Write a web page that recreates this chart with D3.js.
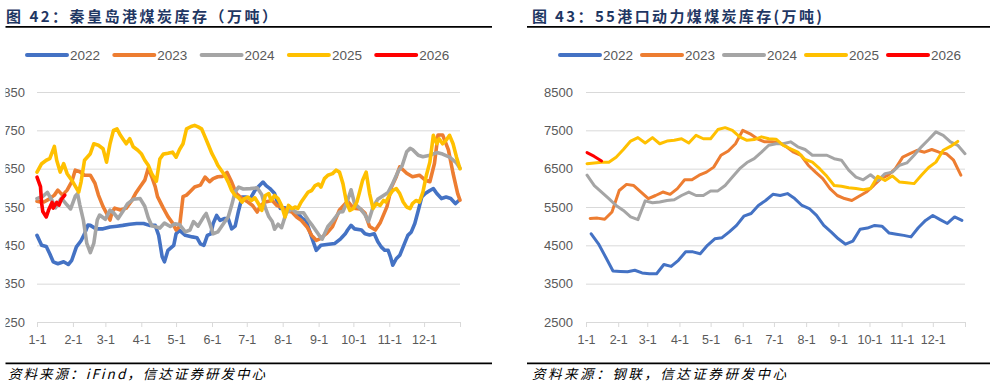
<!DOCTYPE html>
<html>
<head>
<meta charset="utf-8">
<script src="https://cdn.jsdelivr.net/npm/d3@7"></script>
<style>
  html, body { margin: 0; padding: 0; background: #fff; }
  svg { display: block; }
</style>
</head>
<body>
<script>
// x values are day of year (0 = 1-1)
const monthStarts = [0, 31, 59, 90, 120, 151, 181, 212, 243, 273, 304, 334, 365];
const monthLabels = ['1-1', '2-1', '3-1', '4-1', '5-1', '6-1', '7-1', '8-1', '9-1', '10-1', '11-1', '12-1', ''];
const years = ['2022', '2023', '2024', '2025', '2026'];
const colors = ['#4472C4', '#ED7D31', '#A5A5A5', '#FFC000', '#FF0000'];

// fig 42: Qinhuangdao port coal stock, daily, [day, value]
const qhdTicks = [250, 350, 450, 550, 650, 750, 850];
const qhd2022 = [[0,476],[4,450],[8,447],[11,428],[14,407],[18,402],[23,407],[27,400],[30,411],[34,446],[38,462],[41,480],[44,503],[46,502],[51,493],[57,493],[63,498],[69,500],[74,502],[80,505],[86,507],[92,507],[97,502],[102,502],[105,476],[108,420],[110,407],[113,437],[118,450],[120,480],[123,489],[128,476],[134,472],[138,470],[141,454],[144,450],[147,476],[150,480],[152,507],[155,528],[158,515],[162,520],[165,520],[168,493],[171,500],[174,541],[177,576],[180,576],[184,572],[188,593],[192,606],[195,615],[198,605],[201,598],[205,585],[207,567],[210,546],[214,548],[218,541],[222,537],[225,533],[229,520],[232,515],[234,498],[236,480],[239,454],[241,437],[245,450],[250,452],[257,455],[262,467],[266,480],[268,490],[271,502],[274,493],[280,490],[283,480],[287,477],[291,480],[294,460],[297,446],[300,437],[303,437],[305,420],[307,398],[310,415],[313,424],[317,454],[320,476],[323,485],[326,507],[329,541],[332,576],[335,585],[339,593],[342,598],[345,585],[349,572],[353,576],[357,572],[361,559],[364,567]];
const qhd2023 = [[0,565],[3,563],[6,563],[10,570],[15,581],[18,594],[22,581],[26,594],[30,616],[33,646],[37,642],[41,633],[46,633],[50,612],[53,581],[57,551],[60,534],[63,516],[65,538],[67,547],[72,542],[77,547],[82,568],[85,585],[89,603],[93,620],[96,651],[99,629],[102,603],[104,577],[109,547],[113,525],[117,508],[120,490],[123,499],[126,577],[129,581],[132,590],[136,602],[141,607],[145,628],[149,616],[152,624],[156,629],[160,630],[164,640],[168,615],[172,585],[177,572],[182,563],[186,554],[190,537],[193,554],[197,563],[203,567],[207,554],[211,550],[215,541],[220,537],[224,524],[228,515],[233,498],[237,476],[241,463],[244,467],[250,481],[255,499],[261,542],[265,555],[268,565],[273,547],[279,545],[283,534],[287,499],[292,490],[296,508],[302,551],[306,603],[310,629],[313,655],[319,638],[324,629],[330,633],[335,620],[339,616],[343,664],[346,738],[350,738],[355,699],[359,638],[363,585],[365,568]];
const qhd2024 = [[0,572],[5,578],[9,588],[13,567],[16,548],[18,559],[21,573],[26,555],[29,545],[33,578],[35,585],[37,555],[40,516],[43,455],[46,431],[49,455],[52,516],[54,529],[59,518],[63,542],[66,535],[70,520],[74,538],[78,558],[83,570],[89,572],[93,552],[96,522],[99,501],[103,498],[106,495],[110,508],[115,499],[119,506],[123,504],[128,485],[132,490],[135,512],[139,500],[144,525],[146,533],[149,508],[152,480],[156,485],[161,507],[165,524],[168,555],[171,590],[174,602],[178,597],[184,598],[190,600],[194,582],[197,548],[200,525],[203,512],[205,492],[208,505],[211,496],[215,534],[220,545],[224,535],[230,535],[234,516],[238,500],[243,478],[246,466],[251,499],[255,513],[261,537],[264,538],[268,567],[271,595],[274,559],[279,545],[283,530],[286,512],[290,550],[294,570],[299,580],[303,588],[307,612],[312,645],[315,657],[319,694],[322,703],[324,700],[329,685],[333,681],[339,685],[345,692],[350,688],[356,680],[362,665],[365,651]];
const qhd2025 = [[0,641],[4,663],[8,672],[11,676],[15,708],[17,672],[20,641],[23,663],[26,637],[28,628],[31,615],[36,589],[38,615],[41,672],[46,689],[49,715],[53,711],[57,702],[60,667],[63,715],[66,750],[69,754],[72,737],[74,728],[77,715],[80,728],[83,707],[87,698],[90,689],[93,672],[96,659],[99,637],[103,617],[106,675],[109,688],[113,690],[117,693],[120,680],[123,700],[126,715],[129,754],[133,760],[136,763],[139,759],[142,754],[145,733],[148,711],[151,689],[154,672],[156,659],[159,646],[162,633],[165,615],[168,593],[171,580],[174,574],[177,563],[179,572],[182,576],[185,567],[188,574],[191,559],[194,541],[197,580],[200,585],[202,567],[205,580],[208,572],[211,554],[214,524],[217,554],[220,546],[223,550],[225,546],[228,563],[231,576],[234,589],[237,593],[240,606],[243,610],[245,602],[248,624],[251,633],[255,637],[258,646],[261,641],[264,611],[267,563],[270,541],[273,546],[276,563],[278,585],[281,620],[284,641],[287,585],[290,546],[293,559],[296,554],[299,567],[301,563],[304,580],[307,593],[310,598],[313,585],[316,563],[319,550],[322,546],[324,559],[327,567],[330,563],[333,589],[336,633],[339,667],[342,737],[345,715],[347,728],[350,715],[353,724],[356,737],[359,715],[362,680],[365,650]];
const qhd2026 = [[0,628],[3,603],[4,560],[5,538],[8,524],[10,542],[13,562],[14,547],[17,562],[19,555],[21,570],[24,581]];

// fig 43: 55 ports thermal coal stock, weekly
const portTicks = [2500, 3500, 4500, 5500, 6500, 7500, 8500];
const portFirstDay = [5, 4, 1, 1, 1];
const port2022 = [4800,4540,4190,3830,3820,3810,3850,3780,3760,3760,4000,3950,4110,4330,4330,4280,4500,4670,4700,4850,5020,5260,5330,5540,5670,5830,5800,5850,5720,5540,5460,5280,5020,4850,4670,4530,4610,4920,4950,5020,5000,4820,4790,4760,4720,4960,5150,5280,5170,5070,5240,5150];
const port2023 = [5200,5210,5180,5370,5930,6090,6060,5890,5720,5800,5890,5830,5980,6210,6210,6330,6410,6540,6850,6960,7150,7500,7410,7280,7200,7200,7180,7070,6930,6850,6590,6410,6240,5980,5800,5720,5670,5780,5890,6060,6240,6330,6500,6800,6890,6980,6930,7000,6930,6890,6720,6330];
const port2024 = [6330,6060,5890,5720,5540,5410,5240,5170,5660,5610,5630,5670,5690,5800,5890,5800,5800,5920,5920,6060,6280,6500,6660,6760,6930,7110,7150,7150,7200,7070,7000,6850,6850,6850,6760,6720,6460,6280,6210,6340,6190,6370,6410,6590,6650,6850,7070,7260,7460,7370,7200,7110,6890];
const port2025 = [6630,6650,6670,6670,6800,7000,7220,7310,7170,7310,7150,7220,7240,7280,7170,7370,7280,7280,7520,7570,7500,7330,7240,7260,7330,7280,7270,7110,7020,6930,6740,6670,6500,6300,6060,6040,6000,5980,5950,5980,6300,6190,6310,6150,6130,6110,6330,6530,6670,6980,7080,7210];
const port2026 = [6920, 6820, 6700];

const LATIN = '"Liberation Sans", Arial, sans-serif';
const CJK = '"Noto Sans CJK SC", "Noto Sans", sans-serif';

let svg = d3.select('body').append('svg')
    .attr('width', 995)
    .attr('height', 388);

// clip for the left panel, its labels run past the page edge
svg.append('clipPath').attr('id', 'leftClip')
    .append('rect').attr('x', 5.5).attr('y', 0).attr('width', 490).attr('height', 388);

function weekly(values, firstDay) {
    return values.map((v, i) => [firstDay + 7 * i, v]);
}

function drawPanel(p) {
    let g = svg.append('g');
    if (p.clip) g.attr('clip-path', 'url(#' + p.clip + ')');

    let x = d3.scaleLinear().domain([0, 365]).range([p.left, p.right]);
    let y = d3.scaleLinear().domain([p.ticks[0], p.ticks[p.ticks.length - 1]]).range([322, 92]);

    // title and rules
    g.append('text')
        .attr('x', p.titleX).attr('y', 22)
        .attr('textLength', p.titleLen).attr('lengthAdjust', 'spacing')
        .style('font-family', CJK).style('font-size', '15px').style('font-weight', 'bold')
        .style('fill', '#1f3763')
        .text(p.title);
    [26.8, 363.3].forEach(ry => {
        g.append('line')
            .attr('x1', p.ruleX0).attr('x2', p.ruleX1)
            .attr('y1', ry).attr('y2', ry)
            .attr('stroke', '#000').attr('stroke-width', 1.8);
    });
    g.append('text')
        .attr('x', p.sourceX).attr('y', 379)
        .attr('textLength', p.sourceLen).attr('lengthAdjust', 'spacing')
        .style('font-family', CJK).style('font-size', '13.5px').style('font-style', 'italic')
        .style('fill', '#000')
        .text(p.source);

    // legend
    years.forEach((yr, i) => {
        let lx = p.legendX + i * p.legendStep;
        g.append('line')
            .attr('x1', lx).attr('x2', lx + 40).attr('y1', 55).attr('y2', 55)
            .attr('stroke', colors[i]).attr('stroke-width', 4).attr('stroke-linecap', 'round');
        g.append('text')
            .attr('x', lx + 43).attr('y', 55).attr('dy', '0.36em')
            .style('font-family', LATIN).style('font-size', '13.5px').style('fill', '#595959')
            .text(yr);
    });

    // y axis with gridlines
    let yAxis = g.append('g')
        .attr('transform', 'translate(' + p.left + ',0)')
        .call(d3.axisLeft(y).tickValues(p.ticks).tickFormat(d3.format('d'))
            .tickSize(-(p.right - p.left)).tickPadding(p.yPad));
    yAxis.select('.domain').remove();
    yAxis.selectAll('.tick line').attr('stroke', '#d9d9d9').attr('stroke-width', 1);
    yAxis.selectAll('.tick text')
        .style('font-family', LATIN).style('font-size', '13px').style('fill', '#595959');

    // x axis, month ticks hang under the bottom gridline
    let xAxis = g.append('g')
        .attr('transform', 'translate(0,322)')
        .call(d3.axisBottom(x).tickValues(monthStarts).tickSize(5).tickPadding(8)
            .tickFormat((d, i) => monthLabels[i]));
    xAxis.select('.domain').remove();
    xAxis.selectAll('.tick line').attr('stroke', '#d9d9d9');
    xAxis.selectAll('.tick text')
        .style('font-family', LATIN).style('font-size', '12.5px').style('fill', '#595959');

    // lines
    let line = d3.line().x(d => x(d[0])).y(d => y(d[1]));
    p.series.forEach((s, i) => {
        g.append('path')
            .datum(s)
            .attr('d', line)
            .attr('fill', 'none')
            .attr('stroke', colors[i])
            .attr('stroke-width', p.lineWidth)
            .attr('stroke-linejoin', 'round')
            .attr('stroke-linecap', 'round');
    });
}

drawPanel({
    clip: 'leftClip',
    left: 37, right: 460,
    ticks: qhdTicks, yPad: 12,
    title: '图 42：秦皇岛港煤炭库存（万吨）', titleX: 6, titleLen: 271,
    ruleX0: 5, ruleX1: 492,
    source: '资料来源：iFind，信达证券研发中心', sourceX: 8, sourceLen: 257,
    legendX: 27, legendStep: 87.3,
    lineWidth: 3.6,
    series: [qhd2022, qhd2023, qhd2024, qhd2025, qhd2026]
});

drawPanel({
    left: 586, right: 965,
    ticks: portTicks, yPad: 13,
    title: '图 43：55港口动力煤煤炭库存(万吨)', titleX: 532, titleLen: 290,
    ruleX0: 527, ruleX1: 990,
    source: '资料来源：钢联，信达证券研发中心', sourceX: 532, sourceLen: 254,
    legendX: 560, legendStep: 82,
    lineWidth: 3,
    series: [port2022, port2023, port2024, port2025, port2026].map((v, i) => weekly(v, portFirstDay[i]))
});
</script>
</body>
</html>
